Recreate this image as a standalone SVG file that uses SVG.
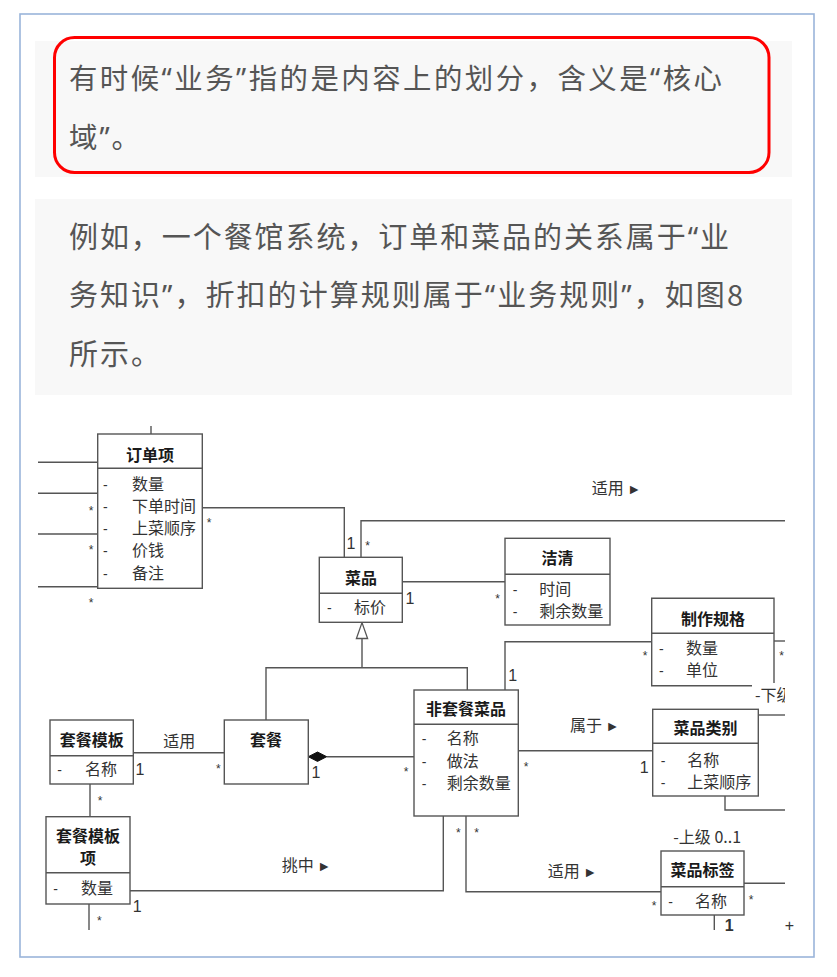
<svg xmlns="http://www.w3.org/2000/svg" width="837" height="977" viewBox="0 0 837 977">
<defs>
<style>
.frame{fill:#fff;stroke:#9ab5da;stroke-width:1.6}
.panel{fill:#f8f8f8}
.para{font-family:"Noto Sans CJK SC","Noto Sans",sans-serif;fill:#555}
.q{font-family:"Noto Sans","Liberation Sans",sans-serif}
.box{fill:#fff;stroke:#555;stroke-width:1.4}
.ln{fill:none;stroke:#555;stroke-width:1.4}
.t{font-family:"Noto Sans CJK SC",sans-serif;font-weight:bold;font-size:16px;fill:#1a1a1a;text-anchor:middle}
.a{font-family:"Noto Sans CJK SC",sans-serif;font-size:16px;fill:#333}
.d{font-family:"Liberation Sans",sans-serif;font-size:14px;fill:#333}
.st{font-family:"Liberation Sans",sans-serif;font-size:12px;fill:#333;text-anchor:middle}
.one{font-family:"Liberation Sans",sans-serif;font-size:16px;fill:#333;text-anchor:middle}
.lbl{font-family:"Noto Sans CJK SC",sans-serif;font-size:16px;fill:#333}
.tri{font-family:"Liberation Sans",sans-serif;font-size:14px}
</style>
<clipPath id="clipR"><rect x="30" y="415" width="755" height="520"/></clipPath>
</defs>
<rect x="0" y="0" width="837" height="977" fill="#fff"/>
<rect class="frame" x="20" y="14" width="794" height="943"/>

<g id="callout">
<rect class="panel" x="35" y="41" width="757" height="136"/>
<rect x="54.5" y="37.5" width="714.5" height="135" rx="20" ry="20" fill="none" stroke="#f00" stroke-width="3"/>
<text class="para" font-size="28.4" x="69" y="88.5" textLength="653" lengthAdjust="spacing">有时候<tspan class="q">“</tspan>业务<tspan class="q">”</tspan>指的是内容上的划分，含义是<tspan class="q">“</tspan>核心</text>
<text class="para" font-size="28.4" x="69" y="148" letter-spacing="2">域<tspan class="q">”</tspan>。</text>
</g>

<g id="paragraph">
<rect class="panel" x="35" y="199" width="757" height="196"/>
<text class="para" font-size="29" x="69" y="247.5" textLength="660" lengthAdjust="spacing">例如，一个餐馆系统，订单和菜品的关系属于<tspan class="q">“</tspan>业</text>
<text class="para" font-size="29" x="69" y="305.5" textLength="674" lengthAdjust="spacing">务知识<tspan class="q">”</tspan>，折扣的计算规则属于<tspan class="q">“</tspan>业务规则<tspan class="q">”</tspan>，如图8</text>
<text class="para" font-size="29" x="69" y="365" letter-spacing="2">所示。</text>
</g>

<g id="connectors">
<path class="ln" d="M38,462.3H97.7M38,493.3H97.7M38,534H97.7M38,586.7H97.7"/>
<path class="ln" d="M151,426V434"/>
<path class="ln" d="M202.3,507.7H344.3V557.3"/>
<path class="ln" d="M361,557.3V520.7H785"/>
<path class="ln" d="M402.3,581.7H505"/>
<path class="ln" d="M362,638.5V667.7M266,720V667.7H467.3V690"/>
<polygon points="362,622.6 356.4,638.5 367.6,638.5" fill="#fff" stroke="#555" stroke-width="1.3"/>
<path class="ln" d="M505,690V641.7H651.7"/>
<path class="ln" d="M774,641H785"/>
<path class="ln" d="M326.7,756.7H414"/>
<polygon points="308.3,756.7 317.5,752 326.7,756.7 317.5,761.4" fill="#111" stroke="#111" stroke-width="1"/>
<path class="ln" d="M133.3,752.7H224.3"/>
<path class="ln" d="M90,784V816.7"/>
<path class="ln" d="M89,904V930"/>
<path class="ln" d="M130,890.7H443.3V816"/>
<path class="ln" d="M466,816V891.7H661"/>
<path class="ln" d="M518.3,750.7H652.7"/>
<path class="ln" d="M758.3,715H785"/>
<path class="ln" d="M725,796V810H785"/>
<path class="ln" d="M744,883.3H785"/>
<path class="ln" d="M714.3,915V930"/>

<text class="lbl" x="591.7" y="494">适用 <tspan class="tri">►</tspan></text>
<text class="lbl" x="570" y="730.5">属于 <tspan class="tri">►</tspan></text>
<text class="lbl" x="547.7" y="876.5">适用 <tspan class="tri">►</tspan></text>
<text class="lbl" x="281.7" y="870.5">挑中 <tspan class="tri">►</tspan></text>
<text class="lbl" x="179.3" y="747" text-anchor="middle">适用</text>
<text class="lbl" x="673.3" y="842.5" font-size="15">-上级 0..1</text>
<text class="lbl" x="755" y="701" font-size="15" clip-path="url(#clipR)">-下级</text>

<text class="st" x="91" y="515">*</text>
<text class="st" x="91" y="554">*</text>
<text class="st" x="91" y="607">*</text>
<text class="st" x="209" y="527">*</text>
<text class="st" x="367.7" y="550">*</text>
<text class="st" x="497.7" y="603">*</text>
<text class="st" x="645" y="660">*</text>
<text class="st" x="781.7" y="660">*</text>
<text class="st" x="218.3" y="773">*</text>
<text class="st" x="100" y="805">*</text>
<text class="st" x="406" y="776">*</text>
<text class="st" x="526" y="771">*</text>
<text class="st" x="458.3" y="837">*</text>
<text class="st" x="476.7" y="837">*</text>
<text class="st" x="654" y="910">*</text>
<text class="st" x="751" y="904">*</text>
<text class="st" x="99.3" y="925">*</text>

<text class="one" x="351" y="549">1</text>
<text class="one" x="410" y="604">1</text>
<text class="one" x="512.7" y="681">1</text>
<text class="one" x="140" y="775">1</text>
<text class="one" x="316" y="778">1</text>
<text class="one" x="644.3" y="773">1</text>
<text class="one" x="137.3" y="912">1</text>
<text class="one" x="729.3" y="931" font-size="9" font-weight="bold">1</text>
<text class="one" x="789.3" y="931" font-size="9" fill="#999">+</text>
</g>

<g id="order-item">
<rect class="box" x="97.7" y="434" width="104.6" height="154.3"/>
<path class="ln" d="M97.7,468.3H202.3"/>
<text class="t" x="150" y="460.5">订单项</text>
<text class="d" x="103" y="489.5">-</text><text class="a" x="132" y="489.5">数量</text>
<text class="d" x="103" y="511.7">-</text><text class="a" x="132" y="511.7">下单时间</text>
<text class="d" x="103" y="534">-</text><text class="a" x="132" y="534">上菜顺序</text>
<text class="d" x="103" y="556.2">-</text><text class="a" x="132" y="556.2">价钱</text>
<text class="d" x="103" y="578.5">-</text><text class="a" x="132" y="578.5">备注</text>
</g>

<g id="dish">
<rect class="box" x="319.3" y="557.3" width="83" height="65"/>
<path class="ln" d="M319.3,593.3H402.3"/>
<text class="t" x="361" y="584">菜品</text>
<text class="d" x="327" y="613">-</text><text class="a" x="354" y="613">标价</text>
</g>

<g id="cleanup">
<rect class="box" x="505" y="538.3" width="105" height="86.7"/>
<path class="ln" d="M505,574.3H610"/>
<text class="t" x="557.5" y="564">洁清</text>
<text class="d" x="512.7" y="595">-</text><text class="a" x="539.3" y="595">时间</text>
<text class="d" x="512.7" y="617">-</text><text class="a" x="539.3" y="617">剩余数量</text>
</g>

<g id="spec">
<rect x="651.7" y="598.3" width="122.3" height="87.4" fill="#fff"/>
<path class="ln" d="M752,685.7H651.7V598.3H774V683"/>
<path class="ln" d="M651.7,633.3H774"/>
<text class="t" x="713" y="624.5">制作规格</text>
<text class="d" x="659" y="654">-</text><text class="a" x="686" y="654">数量</text>
<text class="d" x="659" y="676">-</text><text class="a" x="686" y="676">单位</text>
</g>

<g id="single-dish">
<rect class="box" x="414" y="690" width="104.3" height="126"/>
<path class="ln" d="M414,724.3H518.3"/>
<text class="t" x="466" y="715">非套餐菜品</text>
<text class="d" x="421.7" y="744">-</text><text class="a" x="446.7" y="744">名称</text>
<text class="d" x="421.7" y="767">-</text><text class="a" x="446.7" y="767">做法</text>
<text class="d" x="421.7" y="789">-</text><text class="a" x="446.7" y="789">剩余数量</text>
</g>

<g id="set-meal">
<rect class="box" x="224.3" y="720" width="84" height="64"/>
<text class="t" x="266" y="745.5">套餐</text>
</g>

<g id="set-template">
<rect class="box" x="50" y="720" width="83.3" height="64"/>
<path class="ln" d="M50,755.7H133.3"/>
<text class="t" x="91.7" y="745.5">套餐模板</text>
<text class="d" x="57.3" y="775">-</text><text class="a" x="85" y="775">名称</text>
</g>

<g id="set-template-item">
<rect class="box" x="46" y="816.7" width="84" height="87.3"/>
<path class="ln" d="M46,872.7H130"/>
<text class="t" x="88" y="842.3">套餐模板</text>
<text class="t" x="88" y="864">项</text>
<text class="d" x="53.3" y="894">-</text><text class="a" x="81" y="894">数量</text>
</g>

<g id="category">
<rect class="box" x="652.7" y="709.3" width="105.6" height="86.7"/>
<path class="ln" d="M652.7,743.3H758.3"/>
<text class="t" x="705.5" y="734">菜品类别</text>
<text class="d" x="660.7" y="765.5">-</text><text class="a" x="687.3" y="765.5">名称</text>
<text class="d" x="660.7" y="787.5">-</text><text class="a" x="687.3" y="787.5">上菜顺序</text>
</g>

<g id="tag">
<rect class="box" x="661" y="851" width="83" height="64"/>
<path class="ln" d="M661,886.7H744"/>
<text class="t" x="702.5" y="876">菜品标签</text>
<text class="d" x="668.3" y="907">-</text><text class="a" x="695" y="907">名称</text>
</g>
</svg>
